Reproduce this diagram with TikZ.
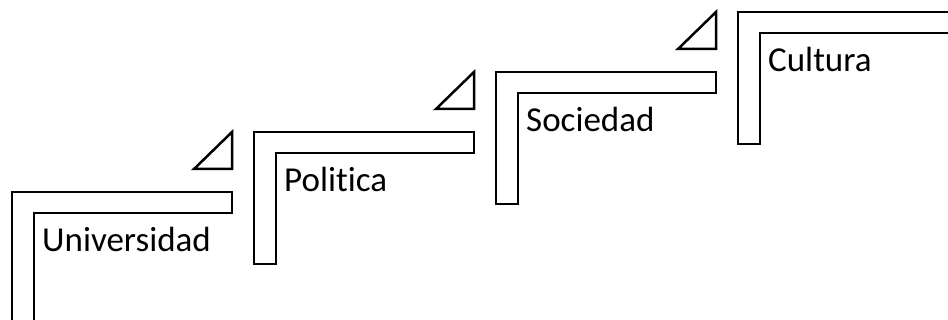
\documentclass[tikz,border=0pt]{standalone}
\usepackage{fontspec}
\setmainfont[Ligatures={NoCommon,NoRequired,NoContextual}]{Carlito}
\tikzset{
  stepshape/.style={draw=black, line width=2.5pt, line join=miter, fill=white},
  steplabel/.style={anchor=base west, inner sep=0pt, font=\fontsize{35}{42}\selectfont}
}
\begin{document}
\begin{tikzpicture}[x=1pt,y=-1pt]
\useasboundingbox (0,0) rectangle (948,320);
\clip (0,0) rectangle (948,320);
\foreach \i/\txt in {0/Universidad,1/Politica,2/Sociedad,3/Cultura}{
  \pgfmathsetmacro{\L}{12+242*\i}
  \pgfmathsetmacro{\T}{192-60*\i}
  \draw[stepshape] (\L,\T) -- ++(220,0) -- ++(0,21) -- ++(-198,0) -- ++(0,111) -- ++(-22,0) -- cycle;
  \node[steplabel] (lbl\i) at (\L+30,\T+60) {\txt};
  \ifnum\i>0
    \draw[stepshape] (\L-60,\T+37) -- (\L-22,\T+37) -- (\L-22,\T) -- cycle;
  \fi
}
\end{tikzpicture}
\end{document}
